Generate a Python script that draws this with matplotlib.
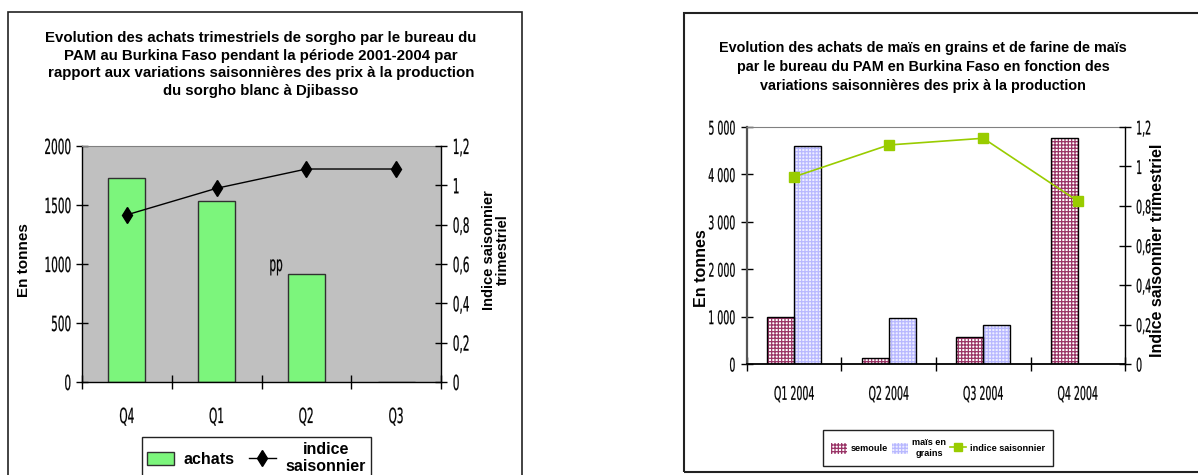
import matplotlib
matplotlib.use("Agg")
import matplotlib.pyplot as plt
from matplotlib import font_manager
from matplotlib.font_manager import FontProperties
from matplotlib.patches import Rectangle, Patch
from matplotlib.lines import Line2D
from matplotlib.patheffects import AbstractPathEffect
from matplotlib.transforms import Affine2D
import numpy as np

# ---------------- data ----------------
cats_left = ["Q4", "Q1", "Q2", "Q3"]
achats = [1730, 1535, 918, 0]
indice_left = [0.85, 0.985, 1.083, 1.083]

cats_right = ["Q1 2004", "Q2 2004", "Q3 2004", "Q4 2004"]
semoule = [985, 120, 576, 4760]
mais_grains = [4593, 977, 816, 0]
indice_right = [0.948, 1.109, 1.143, 0.825]

left_yticks = [0, 500, 1000, 1500, 2000]
left_y2ticks = [0, 0.2, 0.4, 0.6, 0.8, 1.0, 1.2]
right_yticks = [0, 1000, 2000, 3000, 4000, 5000]

# ---------------- fonts ----------------
def find_narrow():
    cands = []
    for f in font_manager.fontManager.ttflist:
        fn = f.fname.lower()
        base = fn.split("/")[-1]
        key = base + " " + f.name.lower()
        if "serif" in key or "mono" in key:
            continue
        if not ("narrow" in key or "condensed" in key or f.stretch in ("condensed", "semi-condensed")):
            continue
        if any(w in base for w in ("bold", "italic", "oblique", "light", "thin", "black", "medium", "semi", "extra")):
            continue
        score = 1
        if "liberation" in key:
            score = 4
        elif "dejavu" in key:
            score = 3
        elif "sans" in key:
            score = 2
        cands.append((score, f.fname))
    if cands:
        cands.sort(reverse=True)
        return cands[0][1]
    return None

NARROW_FILE = find_narrow()
BOLD = ["Liberation Sans", "DejaVu Sans"]

def nprop(size):
    if NARROW_FILE:
        return FontProperties(fname=NARROW_FILE, size=size)
    return FontProperties(family=["Liberation Sans"], size=size)


class HScale(AbstractPathEffect):
    """Draw the text glyphs horizontally compressed (narrow face look)."""
    def __init__(self, sx=0.6, anchor="center", stroke=0.15):
        super().__init__()
        self.sx = sx
        self.anchor = anchor
        self.stroke = stroke

    def draw_path(self, renderer, gc, tpath, affine, rgbFace=None):
        ext = tpath.get_extents()
        if self.anchor == "right":
            a = ext.x1
        elif self.anchor == "left":
            a = 0.0
        else:
            a = 0.5 * (ext.x0 + ext.x1)
        t = Affine2D().translate(-a, 0).scale(self.sx, 1.0).translate(a, 0) + affine
        gc0 = renderer.new_gc()
        gc0.copy_properties(gc)
        if rgbFace is not None:
            gc0.set_foreground(rgbFace)
        gc0.set_linewidth(self.stroke)
        renderer.draw_path(gc0, tpath, t, rgbFace)
        gc0.restore()


SX = 0.56 if NARROW_FILE else 0.52

def narrow_labels(labels, size, anchor):
    for t in labels:
        t.set_fontproperties(nprop(size))
        t.set_path_effects([HScale(SX, anchor)])

def fmt_fr(v):
    return ("%g" % v).replace(".", ",")

def fmt_thousands(v):
    return "{:,}".format(int(v)).replace(",", " ")

W, H = 1198, 475
fig = plt.figure(figsize=(W / 100, H / 100), dpi=100)

def fx(px):
    return px / W

def fy(py):
    return (H - py) / H

plt.rcParams['hatch.linewidth'] = 0.9

# ---------------- outer boxes ----------------
fig.patches.append(Rectangle((fx(8), fy(480)), fx(522) - fx(8), fy(12) - fy(480),
                             transform=fig.transFigure, fill=False, edgecolor="#222222",
                             linewidth=1.2, clip_on=False))
fig.patches.append(Rectangle((fx(684), fy(472)), fx(1205) - fx(684), fy(13) - fy(472),
                             transform=fig.transFigure, fill=False, edgecolor="#222222",
                             linewidth=1.5, clip_on=False))

# ================= LEFT CHART =================
axL = fig.add_axes([fx(82), fy(382), fx(441) - fx(82), fy(146) - fy(382)])
xL = np.arange(len(cats_left))
axL.set_facecolor("#C0C0C0")
axL.bar(xL, achats, width=0.41, color="#7CF57C", edgecolor="#303030", linewidth=1.0, zorder=2)
axL.set_xlim(-0.5, 3.5)
axL.set_ylim(0, 2000)
axL.set_yticks(left_yticks)
axL.set_yticklabels([str(v) for v in left_yticks])
narrow_labels(axL.get_yticklabels(), 15, "right")
axL.set_xticks(np.arange(-0.5, 4.0, 1.0))
axL.set_xticklabels([])
axL.set_xticks(xL, minor=True)
axL.set_xticklabels(cats_left, minor=True)
narrow_labels(axL.get_xticklabels(minor=True), 15, "center")
axL.tick_params(axis="x", which="minor", length=0, pad=18)
axL.tick_params(axis="x", which="major", direction="inout", length=10, width=1.0)
axL.tick_params(axis="y", direction="inout", length=9, width=1.0, pad=3)
axL.spines["top"].set_color("#808080")
axL.spines["top"].set_linewidth(0.8)
axL.spines["left"].set_linewidth(1.0)
axL.spines["bottom"].set_linewidth(1.0)
axL.spines["right"].set_visible(False)

axL2 = axL.twinx()
axL2.plot(xL, indice_left, color="black", linewidth=1.0, marker="d", markersize=8,
          markerfacecolor="black", markeredgecolor="black", zorder=3)
axL2.set_ylim(0, 1.2)
axL2.set_yticks(left_y2ticks)
axL2.set_yticklabels([fmt_fr(v) for v in left_y2ticks])
narrow_labels(axL2.get_yticklabels(), 15, "left")
axL2.tick_params(axis="y", direction="inout", length=9, width=1.0, pad=4)
axL2.spines["right"].set_linewidth(1.0)
for s in ["top", "left", "bottom"]:
    axL2.spines[s].set_visible(False)

pp = fig.text(fx(276), fy(265), "pp", fontproperties=nprop(15), ha="center", va="center")
pp.set_path_effects([HScale(SX, "center")])

fig.text(fx(261), fy(64.5),
         "Evolution des achats trimestriels de sorgho par le bureau du\n"
         "PAM au Burkina Faso pendant la période 2001-2004 par\n"
         "rapport aux variations saisonnières des prix à la production\n"
         "du sorgho blanc à Djibasso",
         family=BOLD, fontweight="bold", fontsize=10.8, ha="center", va="center",
         linespacing=1.32)
fig.text(fx(24), fy(260), "En tonnes", family=BOLD, fontweight="bold", fontsize=11,
         rotation=90, ha="center", va="center")
fig.text(fx(496), fy(250), "Indice saisonnier\ntrimestriel", family=BOLD, fontweight="bold",
         fontsize=10.5, rotation=90, ha="center", va="center", linespacing=1.0)

legL = fig.legend(
    handles=[Patch(facecolor="#7CF57C", edgecolor="#303030", linewidth=1.0),
             Line2D([0], [0], color="black", linewidth=1.0, marker="d", markersize=8,
                    markerfacecolor="black")],
    labels=["achats", "indice\nsaisonnier"],
    ncol=2, loc="upper left", bbox_to_anchor=(fx(142), fy(437)),
    frameon=True, fancybox=False, edgecolor="#222222", framealpha=1,
    prop={"family": BOLD, "weight": "bold", "size": 11.5},
    handlelength=1.7, handleheight=0.8, handletextpad=0.6, columnspacing=0.9,
    borderpad=0.3, borderaxespad=0)
legL.get_frame().set_linewidth(1.0)
for t in legL.get_texts():
    t.set_multialignment("center")

# ================= RIGHT CHART =================
axR = fig.add_axes([fx(747), fy(364), fx(1125) - fx(747), fy(127) - fy(364)])
xR = np.arange(len(cats_right))
bw = 0.286
SEM_C = "#993366"
MAIS_C = "#B8B8FF"
axR.bar(xR - bw / 2, semoule, width=bw, facecolor="white", edgecolor=SEM_C, hatch="+++++",
        linewidth=0, zorder=2)
axR.bar(xR - bw / 2, semoule, width=bw, fill=False, edgecolor="black", linewidth=1.0, zorder=3)
mais_x = [x + bw / 2 for x, v in zip(xR, mais_grains) if v > 0]
mais_v = [v for v in mais_grains if v > 0]
axR.bar(mais_x, mais_v, width=bw, facecolor="#EEEEFF", edgecolor=MAIS_C, hatch="+++++",
        linewidth=0, zorder=2)
axR.bar(mais_x, mais_v, width=bw, fill=False, edgecolor="black", linewidth=1.0, zorder=3)
axR.set_xlim(-0.5, 3.5)
axR.set_ylim(0, 5000)
axR.set_yticks(right_yticks)
axR.set_yticklabels([fmt_thousands(v) for v in right_yticks])
narrow_labels(axR.get_yticklabels(), 13.5, "right")
axR.set_xticks(np.arange(-0.5, 4.0, 1.0))
axR.set_xticklabels([])
axR.set_xticks(xR, minor=True)
axR.set_xticklabels(cats_right, minor=True)
narrow_labels(axR.get_xticklabels(minor=True), 13.5, "center")
axR.tick_params(axis="x", which="minor", length=0, pad=15)
axR.tick_params(axis="x", which="major", direction="inout", length=10, width=1.0)
axR.tick_params(axis="y", direction="inout", length=8, width=1.0, pad=4)
axR.spines["top"].set_color("#808080")
axR.spines["top"].set_linewidth(0.8)
axR.spines["left"].set_color("#555555")
axR.spines["left"].set_linewidth(1.6)
axR.spines["bottom"].set_linewidth(1.3)
axR.spines["right"].set_visible(False)

axR2 = axR.twinx()
axR2.plot(xR, indice_right, color="#99CC00", linewidth=1.2, marker="s", markersize=7,
          markerfacecolor="#99CC00", markeredgecolor="#99CC00", zorder=4)
axR2.set_ylim(0, 1.2)
axR2.set_yticks(left_y2ticks)
axR2.set_yticklabels([fmt_fr(v) for v in left_y2ticks])
narrow_labels(axR2.get_yticklabels(), 13.5, "left")
axR2.tick_params(axis="y", direction="inout", length=8, width=1.0, pad=4)
axR2.spines["right"].set_linewidth(1.0)
for s in ["top", "left", "bottom"]:
    axR2.spines[s].set_visible(False)

fig.text(fx(923), fy(67),
         "Evolution des achats de maïs en grains et de farine de maïs\n"
         "par le bureau du PAM en Burkina Faso en fonction des\n"
         "variations saisonnières des prix à la production",
         family=BOLD, fontweight="bold", fontsize=10.4, ha="center", va="center",
         linespacing=1.45)
fig.text(fx(702), fy(268), "En tonnes", family=BOLD, fontweight="bold", fontsize=11.5,
         rotation=90, ha="center", va="center")
fig.text(fx(1158), fy(250), "Indice saisonnier trimestriel", family=BOLD, fontweight="bold",
         fontsize=11.5, rotation=90, ha="center", va="center")

legR = fig.legend(
    handles=[Patch(facecolor="white", edgecolor=SEM_C, hatch="+++++", linewidth=0),
             Patch(facecolor="#EEEEFF", edgecolor=MAIS_C, hatch="+++++", linewidth=0),
             Line2D([0], [0], color="#99CC00", linewidth=1.2, marker="s", markersize=6,
                    markerfacecolor="#99CC00", markeredgecolor="#99CC00")],
    labels=["semoule", "maïs en\ngrains", "indice saisonnier"],
    ncol=3, loc="upper left", bbox_to_anchor=(fx(823), fy(430)),
    frameon=True, fancybox=False, edgecolor="#222222", framealpha=1,
    prop={"family": BOLD, "weight": "bold", "size": 6.6},
    handlelength=1.7, handleheight=1.4, handletextpad=0.45, columnspacing=0.45,
    borderpad=0.9, borderaxespad=0)
legR.get_frame().set_linewidth(1.0)
for t in legR.get_texts():
    t.set_multialignment("center")

fig.savefig("out.png", dpi=100)
